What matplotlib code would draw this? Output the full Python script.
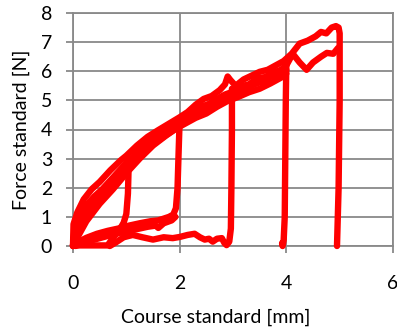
import matplotlib
matplotlib.use("Agg")
import matplotlib.pyplot as plt

plt.rcParams['font.family'] = ['Lato', 'DejaVu Sans']

# upper edge of the loading envelope, ending with the drop at 5 mm
load_top_x = [0, 0.01, 0.08, 0.2, 0.35, 0.5, 0.7, 0.9, 1.0, 1.2, 1.4, 1.6, 1.8, 2.0, 2.15,
              2.3, 2.45, 2.6, 2.75, 2.85, 2.9, 2.95, 3.05, 3.2, 3.35, 3.5, 3.65, 3.8, 3.95,
              4.1, 4.25, 4.4, 4.55, 4.65, 4.75, 4.85, 4.93, 4.98, 5.0, 5.0, 4.98, 4.95]
load_top_y = [0, 0.75, 1.15, 1.6, 1.95, 2.2, 2.6, 2.95, 3.1, 3.45, 3.75, 3.98, 4.2, 4.42, 4.6,
              4.85, 5.05, 5.15, 5.35, 5.55, 5.82, 5.7, 5.5, 5.72, 5.85, 5.98, 6.05, 6.2, 6.35,
              6.6, 6.95, 7.05, 7.2, 7.35, 7.3, 7.5, 7.55, 7.5, 7.3, 5.0, 2.0, 0.0]

# second envelope line, ending on the lower top branch
load_mid_x = [0, 0.03, 0.12, 0.25, 0.4, 0.55, 0.75, 0.95, 1.15, 1.35, 1.55, 1.75, 1.95, 2.1,
              2.25, 2.4, 2.55, 2.7, 2.85, 3.0, 3.15, 3.3, 3.45, 3.6, 3.75, 3.9, 4.0, 4.12,
              4.25, 4.38, 4.5, 4.65, 4.76, 4.88, 4.97]
load_mid_y = [0, 0.6, 1.0, 1.4, 1.7, 1.95, 2.35, 2.75, 3.1, 3.45, 3.72, 3.95, 4.22, 4.4,
              4.55, 4.78, 4.88, 5.05, 5.2, 5.3, 5.48, 5.55, 5.75, 5.8, 5.95, 6.05, 6.2, 6.6,
              6.3, 6.05, 6.3, 6.5, 6.63, 6.6, 6.8]

# third envelope line
load_third_x = [0, 0.06, 0.15, 0.3, 0.5, 0.7, 0.9, 1.1, 1.3, 1.5, 1.7, 1.9, 2.05, 2.2, 2.35,
                2.5, 2.65, 2.8, 2.95, 3.1, 3.25, 3.4, 3.55, 3.7, 3.85, 4.0]
load_third_y = [0, 0.45, 0.8, 1.25, 1.65, 2.05, 2.45, 2.8, 3.15, 3.5, 3.75, 4.0, 4.2, 4.35,
                4.55, 4.65, 4.85, 5.0, 5.12, 5.3, 5.4, 5.55, 5.65, 5.8, 5.9, 6.05]

# lower edge of the envelope
load_low_x = [0, 0.1, 0.25, 0.5, 0.75, 1.0, 1.25, 1.5, 1.75, 1.95, 2.1, 2.3, 2.5, 2.7, 2.9,
              3.1, 3.3, 3.5, 3.7, 3.9, 4.0]
load_low_y = [0, 0.35, 0.85, 1.45, 1.95, 2.5, 3.0, 3.45, 3.8, 4.05, 4.2, 4.4, 4.55, 4.78,
              4.98, 5.12, 5.28, 5.4, 5.58, 5.78, 5.92]

# unloading at 1 mm
unload1_x = [1.03, 1.04, 1.03, 1.0, 0.95, 0.87, 0.78, 0.7, 0.65, 0.3, 0.0]
unload1_y = [3.0, 2.5, 1.8, 1.1, 0.8, 0.55, 0.35, 0.15, 0.02, 0.02, 0.02]

# reloading up to 2 mm (two passes)
reload2a_x = [0, 0.1, 0.25, 0.45, 0.65, 0.85, 1.05, 1.25, 1.45, 1.6, 1.7, 1.8, 1.88,
              1.93, 1.96, 1.98, 2.0]
reload2a_y = [0.05, 0.14, 0.28, 0.42, 0.52, 0.6, 0.7, 0.78, 0.85, 0.88, 0.94, 1.0, 1.08,
              1.3, 2.0, 3.2, 4.35]
reload2b_x = [0.05, 0.2, 0.4, 0.6, 0.8, 1.0, 1.2, 1.4, 1.55, 1.6, 1.7, 1.85, 1.92]
reload2b_y = [0.0, 0.1, 0.22, 0.32, 0.42, 0.5, 0.58, 0.66, 0.7, 0.62, 0.78, 0.88, 1.0]

# low return path and reloading at 3 mm
reload3_x = [0.69, 0.8, 0.95, 1.12, 1.3, 1.5, 1.7, 1.87, 2.0, 2.15, 2.28, 2.38, 2.47, 2.55,
             2.62, 2.7, 2.79, 2.84, 2.88, 2.93, 2.96, 2.97, 2.98, 2.98]
reload3_y = [0.0, 0.12, 0.3, 0.38, 0.3, 0.22, 0.3, 0.27, 0.31, 0.38, 0.42, 0.3, 0.22, 0.25,
             0.15, 0.25, 0.27, 0.1, 0.03, 0.15, 0.6, 2.0, 4.0, 5.4]

# drop at 4 mm
drop4_x = [3.92, 3.93, 3.95, 3.97, 3.98, 3.99, 4.0]
drop4_y = [0.1, 0.0, 0.2, 1.0, 3.0, 5.0, 6.3]

paths = [
    (load_top_x, load_top_y), (load_mid_x, load_mid_y), (load_third_x, load_third_y),
    (load_low_x, load_low_y), (unload1_x, unload1_y), (reload2a_x, reload2a_y),
    (reload2b_x, reload2b_y), (reload3_x, reload3_y), (drop4_x, drop4_y),
]

fig = plt.figure(figsize=(3.97, 3.29), dpi=100)
ax = fig.add_axes([73 / 397, 83 / 329, 320 / 397, 233 / 329])

for xs, ys in paths:
    ax.plot(xs, ys, color='#ff0000', lw=4.6, solid_joinstyle='round',
            solid_capstyle='round', clip_on=False, zorder=3)

grid_col = '#898989'
ax.set_xlim(0, 6)
ax.set_ylim(0, 8)
ax.set_xticks([0, 2, 4, 6])
ax.set_yticks(range(0, 9))
ax.grid(True, color=grid_col, lw=1.3)
for s in ax.spines.values():
    s.set_color(grid_col)
    s.set_linewidth(1.3)
ax.tick_params(length=5, width=1.3, color=grid_col, labelsize=14, pad=10,
               labelcolor='black')
ax.tick_params(axis='x', pad=16)

ax.set_xlabel('Course standard [mm]', fontsize=14)
ax.set_ylabel('Force standard [N]', fontsize=14, labelpad=8)
ax.xaxis.set_label_coords((216 - 73) / 320, -0.27)

fig.savefig('out.png', dpi=100)
